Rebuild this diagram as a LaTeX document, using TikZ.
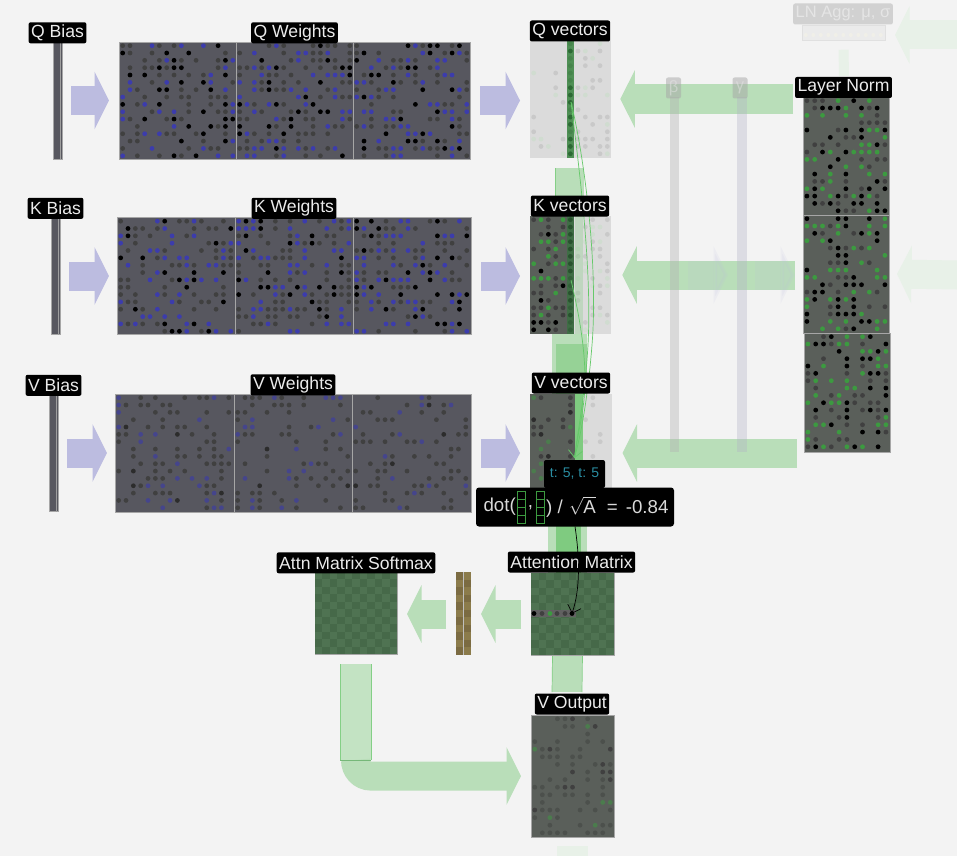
\documentclass[tikz,border=0pt]{standalone}
\usepackage{amsmath}
\usepackage{fontspec}
\setmainfont{Liberation Sans}
\usetikzlibrary{arrows.meta,positioning,calc}
\definecolor{pagebg}{HTML}{F3F3F3}
\definecolor{wtbase}{HTML}{57575F}
\definecolor{vecbase}{HTML}{5A5F5A}
\definecolor{palebase}{HTML}{DBDBDB}
\definecolor{blockblue}{HTML}{BCBCE0}
\definecolor{blockgreen}{HTML}{B9DEB9}
\definecolor{fadedgreen}{HTML}{E8F1E8}
\definecolor{dotblue}{HTML}{3C3CAC}
\definecolor{fadeblue}{HTML}{45458C}
\definecolor{dotgreen}{HTML}{3C9A40}
\definecolor{dotgrey}{HTML}{2C2C2C}
\definecolor{softgrey}{HTML}{404040}
\definecolor{outgrey}{HTML}{4C504C}
\definecolor{palegrey}{HTML}{C9C9C9}
\definecolor{palegreen}{HTML}{D0DCD0}
\definecolor{qcol}{HTML}{4F8F55}
\definecolor{qcoldot}{HTML}{2C6A34}
\definecolor{kcol}{HTML}{3F6E45}
\definecolor{kcoldot}{HTML}{28522E}
\definecolor{vcol}{HTML}{7FCB80}
\definecolor{innerflow}{HTML}{7FCB80}
\definecolor{flowedge}{HTML}{84CF86}
\definecolor{thingreen}{HTML}{66C96A}
\definecolor{checka}{HTML}{4F7352}
\definecolor{checkb}{HTML}{466949}
\definecolor{bara}{HTML}{7B6B42}
\definecolor{barb}{HTML}{8B7B4B}
\definecolor{chipteal}{HTML}{2A8CA0}
\tikzset{
    lbl/.style={fill=black,text=white!92!black,rounded corners=2pt,inner xsep=2.5pt,inner ysep=0pt,minimum height=21pt,font=\fontsize{17.6pt}{19pt}\selectfont},
    fadedlbl/.style={fill=black!18,text=black!10,rounded corners=2pt,inner xsep=2.5pt,inner ysep=0pt,minimum height=21pt,font=\fontsize{16.5pt}{18pt}\selectfont},
    panel/.style={inner sep=0pt,outer sep=0pt,draw=black!35,line width=0.6pt},
    blockarrow/.style={line width=29pt,draw=#1,-{Triangle[length=14.5pt,width=57pt,fill=#1]}},
    flowline/.style={line width=#1,draw=blockgreen},
    thinflow/.style={draw=thingreen,line width=0.7pt},
    popbox/.style={fill=black,rounded corners=3pt,inner sep=0pt,outer sep=0pt},
    poptext/.style={inner sep=0pt,text=black!15,font=\fontsize{18.7pt}{21pt}\selectfont}
}
% random dots of three colours, thresholds out of 100
\def\pitchx{7.34}
\def\pitchy{7.34}
\newcommand{\dotgrid}[9]{
    \foreach \c in {1,...,#2}{\foreach \r in {1,...,#3}{
        \pgfmathsetmacro{\dx}{(\c-0.5)*\pitchx}
        \pgfmathsetmacro{\dy}{(\r-0.5)*\pitchy}
        \pgfmathrandominteger{\pick}{0}{99}
        \ifnum\pick<#4\relax \fill[#7] ([shift={(\dx,\dy)}]#1.north west) circle (2.4pt);
        \else\ifnum\pick<#5\relax \fill[#8] ([shift={(\dx,\dy)}]#1.north west) circle (2.4pt);
        \else\ifnum\pick<#6\relax \fill[#9] ([shift={(\dx,\dy)}]#1.north west) circle (2.4pt);
        \fi\fi\fi
    }}
}
\newcommand{\checker}[7]{
    \foreach \c in {1,...,#2}{\foreach \r in {1,...,#3}{
        \pgfmathtruncatemacro{\odd}{mod(\c+\r,2)}
        \pgfmathsetmacro{\dx}{(\c-1)*#4}
        \pgfmathsetmacro{\dy}{(\r-1)*#5}
        \ifnum\odd=0\relax\def\cellcol{#6}\else\def\cellcol{#7}\fi
        \fill[\cellcol] ([shift={(\dx,\dy)}]#1.north west) rectangle ++(#4,#5);
    }}
}
\begin{document}
\begin{tikzpicture}[x=1pt,y=-1pt]
\useasboundingbox (0,0) rectangle (957,856);
\fill[pagebg] (0,0) rectangle (957,856);
\pgfmathsetseed{4711}

% faint top right
\node[inner sep=0pt,minimum width=83pt,minimum height=15pt,fill=black!8,draw=black!12] (lnbar) at (843.5,33) {};
\foreach \dotn in {1,...,11}{
    \fill[yellow!30!black!10] (802+7.5*\dotn-3.7,35) circle (2pt);
}
\coordinate (lnfar) at (957,35);
\coordinate (lntip) at (895,35);
\coordinate (lnkfar) at (957,275);
\coordinate (outfar) at (572.5,856);

% weights and bias
\foreach \nm/\yy/\xb in {q/100.5/53,k/276/51,v/453/49}{
    \node[panel,fill=wtbase,minimum width=9pt,minimum height=117pt] (\nm bias) at (\xb+4.5,\yy) {};
    \draw[black!38,line width=1pt] ([xshift=-2pt]\nm bias.north east) -- ([xshift=-2pt]\nm bias.south east);
}
\node[panel,fill=wtbase,minimum width=117pt,minimum height=117pt] (qwa) at (177.5,100.5) {};
\node[panel,fill=wtbase,minimum width=117pt,minimum height=117pt] (qwb) at (294.5,100.5) {};
\node[panel,fill=wtbase,minimum width=117pt,minimum height=117pt] (qwc) at (411.5,100.5) {};
\node[panel,fill=wtbase,minimum width=118pt,minimum height=117pt] (kwa) at (176,276) {};
\node[panel,fill=wtbase,minimum width=118pt,minimum height=117pt] (kwb) at (294,276) {};
\node[panel,fill=wtbase,minimum width=118pt,minimum height=117pt] (kwc) at (412,276) {};
\node[panel,fill=wtbase,minimum width=119pt,minimum height=118pt] (vwa) at (174.5,453) {};
\node[panel,fill=wtbase,minimum width=118pt,minimum height=118pt] (vwb) at (293,453) {};
\node[panel,fill=wtbase,minimum width=119pt,minimum height=118pt] (vwc) at (411.5,453) {};
\foreach \nm in {qwa,qwb,qwc,kwa,kwb,kwc}{
    \dotgrid{\nm}{16}{16}{9}{32}{50}{black}{softgrey}{dotblue}
}
\foreach \nm in {vwa,vwb,vwc}{
    \dotgrid{\nm}{16}{16}{2}{28}{36}{dotgrey}{softgrey}{fadeblue}
}

% vector blocks
\node[panel,draw=none,fill=palebase,minimum width=36.7pt,minimum height=118pt] (qvl) at (548.35,99) {};
\node[panel,draw=none,fill=qcol,minimum width=7.6pt,minimum height=118pt] (qvm) at (570.5,99) {};
\node[panel,draw=none,fill=palebase,minimum width=37pt,minimum height=118pt] (qvr) at (592.8,99) {};
\node[panel,draw=none,fill=vecbase,minimum width=36.7pt,minimum height=118pt] (kvl) at (548.35,275) {};
\node[panel,draw=none,fill=kcol,minimum width=7.6pt,minimum height=118pt] (kvm) at (570.5,275) {};
\node[panel,draw=none,fill=palebase,minimum width=37pt,minimum height=118pt] (kvr) at (592.8,275) {};
\node[panel,draw=none,fill=vecbase,minimum width=44.5pt,minimum height=118pt] (vvl) at (552.25,453) {};
\node[panel,draw=none,fill=palebase,minimum width=37pt,minimum height=118pt] (vvr) at (593,453) {};
\dotgrid{qvl}{5}{16}{0}{10}{18}{palegrey}{palegrey}{palegreen}
\dotgrid{qvr}{5}{16}{0}{28}{42}{palegrey}{palegrey}{palegreen}
\dotgrid{qvm}{1}{16}{30}{65}{100}{qcoldot}{qcoldot}{qcol!70!qcoldot}
\dotgrid{kvl}{5}{16}{16}{50}{66}{black}{softgrey}{dotgreen}
\dotgrid{kvm}{1}{16}{25}{70}{100}{kcoldot}{kcoldot}{kcol!50!kcoldot}
\dotgrid{kvr}{5}{16}{0}{22}{42}{palegrey}{palegrey}{palegreen}
\dotgrid{vvl}{6}{16}{5}{28}{36}{dotgrey}{softgrey}{dotgreen!50!vecbase}
\dotgrid{vvr}{4}{16}{0}{16}{16}{palegrey}{palegrey}{palegrey}

% layer norm
\node[panel,fill=vecbase,minimum width=86pt,minimum height=118pt] (lna) at (846,156) {};
\node[panel,fill=vecbase,minimum width=86pt,minimum height=118pt] (lnb) at (846,274) {};
\node[panel,fill=vecbase,minimum width=86pt,minimum height=119pt] (lnc) at (847,392.5) {};
\def\pitchx{7.8}
\foreach \nm in {lna,lnb,lnc}{
    \dotgrid{\nm}{11}{16}{18}{34}{56}{black}{softgrey}{dotgreen}
}
\def\pitchx{7.34}
\coordinate (lnqin) at (793,99);
\coordinate (lnkin) at (795,275);
\coordinate (lnvin) at (797,453);

% vertical flows behind the matrices
\draw[flowline=29pt] ([xshift=-1pt,yshift=-10pt]qvm.south) -- ([xshift=-1pt,yshift=0pt]kvm.north);
\draw[draw=flowedge,line width=0.7pt] ([xshift=-15.5pt,yshift=-10pt]qvm.south) -- ([xshift=-15.5pt]kvm.north);
\draw[flowline=35pt] ([xshift=-1pt]kvm.south) -- ([xshift=-1pt]vvl.north -| kvm);
\fill[innerflow,opacity=0.6] (556,344) rectangle (587,394);
\draw[flowline=39pt] (567.5,512) -- (567.5,573);
\fill[innerflow] (556,526) rectangle (581,573);
\draw[flowline=30pt] (567,655) -- (567,692);
\draw[flowedge,line width=0.7pt] (552,692) -- (552.5,655) (582,692) -- (582.5,655);
\fill[innerflow,opacity=0.3] (574.5,216) rectangle (583,334);
\fill[vcol] (574.5,394) rectangle (583,512);

% attention matrices
\node[panel,minimum width=83pt,minimum height=82pt] (attn) at (572.5,614) {};
\node[panel,minimum width=82pt,minimum height=82pt] (soft) at (356,613) {};
\checker{attn}{11}{11}{7.545}{7.455}{checka}{checkb}
\checker{soft}{11}{11}{7.455}{7.455}{checka}{checkb}
\node[panel,draw=none,minimum width=15pt,minimum height=83pt] (normbar) at (463.5,613.5) {};
\checker{normbar}{2}{11}{7.5}{7.545}{bara}{barb}
\draw[black!25,line width=0.6pt] (normbar.north) -- (normbar.south);
\fill[black!62] (531,610) rectangle (576,617);
\foreach \dotx/\dotc [count=\n] in {534/black,542/softgrey,550/dotgreen,557/softgrey,565/softgrey,572/black}{
    \fill[\dotc] (\dotx,613.5) circle (2.4pt) coordinate (attndot\n);
}

% output
\node[panel,fill=vecbase,minimum width=83pt,minimum height=122pt] (voutput) at (572.5,776) {};
\def\pitchx{7.55}
\def\pitchy{7.6}
\dotgrid{voutput}{11}{16}{6}{36}{42}{softgrey}{outgrey}{dotgreen!50!vecbase}
\def\pitchx{7.34}
\def\pitchy{7.34}

% block arrows
\draw[blockarrow=blockblue] ([xshift=9pt]qbias.east) -- ([xshift=-10pt]qwa.west);
\draw[blockarrow=blockblue] ([xshift=9pt]kbias.east) -- ([xshift=-8pt]kwa.west);
\draw[blockarrow=blockblue] ([xshift=9pt]vbias.east) -- ([xshift=-8pt]vwa.west);
\draw[blockarrow=blockblue] ([xshift=10pt]qwc.east) -- ([xshift=-10pt]qvl.west |- qwc);
\draw[blockarrow=blockblue] ([xshift=10pt]kwc.east) -- ([xshift=-10pt]kvl.west |- kwc);
\draw[blockarrow=blockblue] ([xshift=10pt]vwc.east) -- ([xshift=-10pt]vvl.west);
\draw[blockarrow=blockgreen] (lnqin) -- ([xshift=9pt]qvr.east);
\draw[blockarrow=blockgreen] (lnkin) -- ([xshift=11pt]kvr.east);
\draw[blockarrow=blockgreen] (lnvin) -- ([xshift=11pt]vvr.east);
\draw[blockarrow=blockgreen] ([xshift=-10pt]attn.west) -- ([xshift=10pt]normbar.east |- attn);
\draw[blockarrow=blockgreen] ([xshift=-10pt]normbar.west |- attn) -- ([xshift=10pt]soft.east |- attn);
\node[panel,draw=none,fill=blockgreen!85!white,minimum width=31pt,minimum height=96pt] (softbox) at (355.5,712) {};
\draw[flowedge,line width=0.8pt] (softbox.north west) -- (softbox.south west) (softbox.north east) -- (softbox.south east);
\draw[blockarrow=blockgreen] (softbox.south) to[out=-90,in=180] ++(15,16) -- ([xshift=-10pt]voutput.west);
\draw[draw=dotgreen!70,line width=0.7pt] (softbox.south west) -- (softbox.south east);
\draw[blockarrow=blockblue,opacity=0.12] (688,275) -- (728,275);
\draw[blockarrow=blockblue,opacity=0.12] (755,275) -- (795,275);
\draw[blockarrow=fadedgreen] (lnkfar) -- ([xshift=8pt]lnb.east);
\draw[blockarrow=fadedgreen] (lnfar) -- (lntip);
\draw[flowline=10pt,draw=fadedgreen] ([yshift=-9pt]lnbar.south) -- (844,76);
\draw[flowline=31pt,draw=fadedgreen] ([yshift=-9pt]voutput.south) -- (outfar);

% beta and gamma columns
\node[panel,draw=none,fill=black!30,opacity=0.4,minimum width=9pt,minimum height=355pt] (betacol) at (674.5,274.5) {};
\node[panel,draw=none,fill=blue!25!black!30,opacity=0.35,minimum width=10pt,minimum height=355pt] (gammacol) at (741.5,274.5) {};
\node[fadedlbl,fill=black!35,opacity=0.5,text=black!10,minimum width=15pt,inner xsep=1pt] (betalbl) at (673.5,88) {β};
\node[fadedlbl,fill=black!35,opacity=0.5,text=black!10,minimum width=15pt,inner xsep=1pt] (gammalbl) at (740,88) {γ};

% thin lines
\coordinate (qdot) at (571,102);
\coordinate (kdot) at (571,280);
\coordinate (vdot) at (574.5,458);
\draw[thinflow] (qdot) .. controls (586,165) and (598,270) .. (592,345) .. controls (588,395) and (582,430) .. (vdot);
\draw[thinflow] (qdot) .. controls (580,175) and (592,270) .. (588,345) .. controls (585,395) and (578,430) .. (vdot);
\draw[thinflow,-{Straight Barb[length=7pt,width=14pt]}] (kdot) .. controls (578,310) and (585,345) .. (585,380) .. controls (585,410) and (578,430) .. (vdot);

% labels
\node[lbl,above=-1.5pt of qbias] (qbiaslbl) {Q Bias};
\node[lbl,above=-1.5pt of kbias] (kbiaslbl) {K Bias};
\node[lbl,above=-1.5pt of vbias] (vbiaslbl) {V Bias};
\node[lbl,above=-1.5pt of qwb] (qwlbl) {Q Weights};
\node[lbl,above=-1.5pt of kwb] (kwlbl) {K Weights};
\node[lbl,above=-1.5pt of vwb] (vwlbl) {V Weights};
\node[lbl] (qvlbl) at (570,31) {Q vectors};
\node[lbl] (kvlbl) at (570,206) {K vectors};
\node[lbl] (vvlbl) at (571,383) {V vectors};
\node[lbl] (attnlbl) at (571.5,562) {Attention Matrix};
\node[lbl,above=-1.5pt of soft] (softlbl) {Attn Matrix Softmax};
\node[lbl] (vouttlbl) at (572,704) {V Output};
\node[lbl] (lnlbl) at (843.5,87.5) {Layer Norm};
\node[fadedlbl] (lnagglbl) at (843,14) {LN Agg: μ, σ};

% popup
\node[popbox,minimum width=198pt,minimum height=39pt] (popdot) at (575,507) {};
\node[popbox,anchor=south,minimum width=61pt,minimum height=28pt,text=chipteal,font=\fontsize{14pt}{16pt}\selectfont,rounded corners=2pt] (poptime) at (574.5,488) {t: 5, t: 5};
\node[poptext,anchor=east] (popopen) at (516,507) {dot(};
\foreach \cellx/\nm in {521/sta,540/stb}{
    \foreach \k in {0,1,2,3}{
        \node[inner sep=0pt,draw=dotgreen,fill=black,line width=1pt,minimum width=8pt,minimum height=8pt] (\nm\k) at (\cellx,495+8*\k) {};
    }
}
\node[poptext] (popcomma) at (530.5,508) {,};
\node[poptext,anchor=west] (popclose) at (546,507) {) /\,\,$\sqrt{\mbox{A}}$\hspace{11pt}=\hspace{8pt}-0.84};

% score arrow
\draw[black,line width=0.7pt,-{Straight Barb[length=7pt,width=14pt]}] (popdot.south) .. controls (580,560) and (580,590) .. (attndot6);
\end{tikzpicture}
\end{document}
